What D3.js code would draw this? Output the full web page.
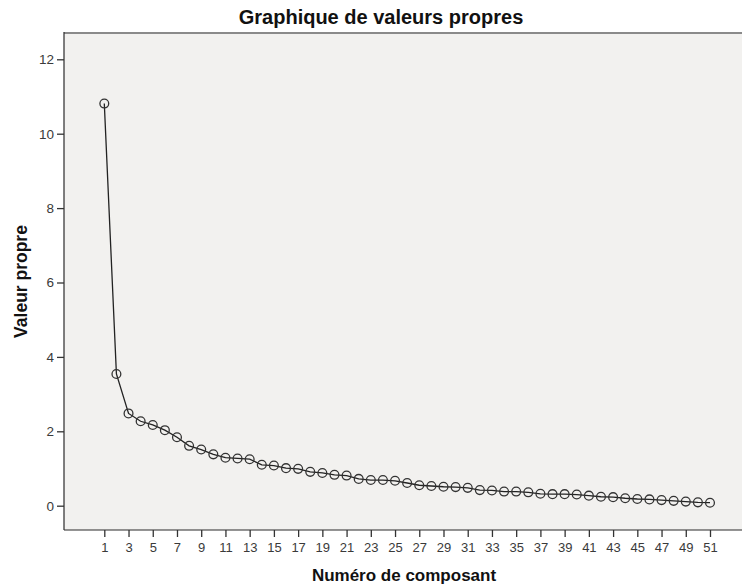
<!DOCTYPE html>
<html>
<head>
<meta charset="utf-8">
<script src="https://cdn.jsdelivr.net/npm/d3@7"></script>
<style>
  html, body { margin: 0; padding: 0; background: #ffffff; }
  svg { display: block; font-family: "Liberation Sans", Arial, sans-serif; }
</style>
</head>
<body>
<svg id="chart" width="742" height="588"></svg>
<script>
// Scree plot: eigenvalue per component
const chartTitle = "Graphique de valeurs propres";
const xTitle = "Numéro de composant";
const yTitle = "Valeur propre";

const components = [1, 2, 3, 4, 5, 6, 7, 8, 9, 10, 11, 12, 13, 14, 15, 16, 17,
  18, 19, 20, 21, 22, 23, 24, 25, 26, 27, 28, 29, 30, 31, 32, 33, 34, 35, 36,
  37, 38, 39, 40, 41, 42, 43, 44, 45, 46, 47, 48, 49, 50, 51];
const eigenvalues = [10.81, 3.54, 2.48, 2.27, 2.17, 2.03, 1.84, 1.61, 1.51, 1.38,
  1.29, 1.27, 1.25, 1.10, 1.08, 1.01, 0.99, 0.91, 0.88, 0.83,
  0.81, 0.72, 0.69, 0.69, 0.67, 0.61, 0.55, 0.53, 0.51, 0.50,
  0.48, 0.42, 0.41, 0.38, 0.38, 0.36, 0.32, 0.31, 0.31, 0.30,
  0.27, 0.24, 0.23, 0.20, 0.18, 0.17, 0.15, 0.13, 0.11, 0.09, 0.08];
const xTickValues = [1, 3, 5, 7, 9, 11, 13, 15, 17, 19, 21, 23, 25, 27, 29, 31,
  33, 35, 37, 39, 41, 43, 45, 47, 49, 51];
const yTickValues = [0, 2, 4, 6, 8, 10, 12];

// Plot frame
const frame = { left: 64, top: 33, right: 744, bottom: 530 };

const svg = d3.select("#chart");

const x = d3.scaleLinear().domain([1, 51]).range([104.3, 710]);
const y = d3.scaleLinear().domain([0, 12]).range([505.7, 59.3]);

// Plot background
svg.append("rect")
  .attr("x", frame.left)
  .attr("y", frame.top)
  .attr("width", frame.right - frame.left)
  .attr("height", frame.bottom - frame.top)
  .attr("fill", "#f2f1ef");

// Frame borders
svg.append("line")
  .attr("x1", frame.left).attr("x2", frame.right)
  .attr("y1", frame.top).attr("y2", frame.top)
  .attr("stroke", "#8a8a8a").attr("stroke-width", 2);
svg.append("line")
  .attr("x1", frame.left).attr("x2", frame.left)
  .attr("y1", frame.top - 1).attr("y2", frame.bottom)
  .attr("stroke", "#2a2a2a").attr("stroke-width", 1.2);
svg.append("line")
  .attr("x1", frame.left).attr("x2", frame.right)
  .attr("y1", frame.bottom).attr("y2", frame.bottom)
  .attr("stroke", "#2a2a2a").attr("stroke-width", 1.2);

// Y axis
const yAxis = d3.axisLeft(y)
  .tickValues(yTickValues)
  .tickFormat(d3.format("d"))
  .tickSize(7)
  .tickPadding(3);
const gy = svg.append("g")
  .attr("transform", `translate(${frame.left},0)`)
  .call(yAxis);
gy.select(".domain").remove();
gy.selectAll(".tick line").attr("stroke", "#333").attr("stroke-width", 1.3);
gy.selectAll(".tick text")
  .attr("fill", "#3a3a3a")
  .style("font-size", "13.5px");

// X axis
const xAxis = d3.axisBottom(x)
  .tickValues(xTickValues)
  .tickFormat(d3.format("d"))
  .tickSize(7)
  .tickPadding(6);
const gx = svg.append("g")
  .attr("transform", `translate(0,${frame.bottom})`)
  .call(xAxis);
gx.select(".domain").remove();
gx.selectAll(".tick line").attr("stroke", "#333").attr("stroke-width", 1.3);
gx.selectAll(".tick text")
  .attr("fill", "#3a3a3a")
  .style("font-size", "13px");

// Scree line
const points = components.map((c, i) => ({ c, v: eigenvalues[i] }));
svg.append("path")
  .datum(points)
  .attr("fill", "none")
  .attr("stroke", "#222")
  .attr("stroke-width", 1.3)
  .attr("d", d3.line().x(d => x(d.c)).y(d => y(d.v)));

// Markers
svg.append("g")
  .selectAll("circle")
  .data(points)
  .join("circle")
  .attr("cx", d => x(d.c))
  .attr("cy", d => y(d.v))
  .attr("r", 4.4)
  .attr("fill", "none")
  .attr("stroke", "#333")
  .attr("stroke-width", 1.3);

// Titles
svg.append("text")
  .attr("x", 381)
  .attr("y", 24)
  .attr("text-anchor", "middle")
  .attr("font-weight", "bold")
  .style("font-size", "20px")
  .attr("fill", "#111")
  .text(chartTitle);

svg.append("text")
  .attr("x", (frame.left + frame.right) / 2)
  .attr("y", 581)
  .attr("text-anchor", "middle")
  .attr("font-weight", "bold")
  .style("font-size", "17px")
  .attr("fill", "#111")
  .text(xTitle);

svg.append("text")
  .attr("transform", `translate(27,${(frame.top + frame.bottom) / 2}) rotate(-90)`)
  .attr("text-anchor", "middle")
  .attr("font-weight", "bold")
  .style("font-size", "17.5px")
  .attr("fill", "#111")
  .text(yTitle);
</script>
</body>
</html>
